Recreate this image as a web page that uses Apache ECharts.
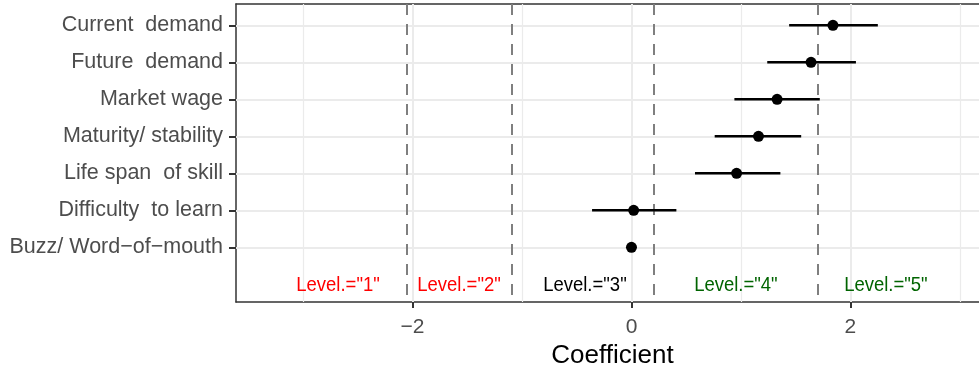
<!DOCTYPE html>
<html>
<head>
<meta charset="utf-8">
<script src="https://cdn.jsdelivr.net/npm/echarts@6/dist/echarts.min.js"></script>
<style>
  html, body { margin: 0; padding: 0; background: #fff; }
  #chart { width: 979px; height: 368px; }
</style>
</head>
<body>
<div id="chart"></div>
<script>
// rows, top to bottom
const categories = ['Current  demand', 'Future  demand', 'Market wage', 'Maturity/ stability',
  'Life span  of skill', 'Difficulty  to learn', 'Buzz/ Word\u2212of\u2212mouth'];
const coef = [1.84, 1.64, 1.33, 1.16, 0.96, 0.02, 0];
const lower = [1.44, 1.24, 0.94, 0.76, 0.58, -0.36, 0];
const upper = [2.25, 2.05, 1.72, 1.55, 1.36, 0.41, 0];

// thresholds between levels
const cutpoints = [-2.05, -1.09, 0.205, 1.70];
const levelLabels = ['Level.="1"', 'Level.="2"', 'Level.="3"', 'Level.="4"', 'Level.="5"'];
const levelX = [-2.68, -1.575, -0.425, 0.954, 2.324];
const levelColors = ['#FF0000', '#FF0000', '#000000', '#006400', '#006400'];

const xTicks = [-2, 0, 2];
const xMinor = [-3, -1, 1, 3];

const labelRow = categories.length + 1;
const rows = categories.map((c, i) => i + 1);

const chart = echarts.init(document.getElementById('chart'));

const gridColor = '#EBEBEB';
const borderLine = { show: true, onZero: false, lineStyle: { color: '#333333', width: 1.5 } };
const option = {
  animation: false,
  textStyle: { fontFamily: 'Liberation Sans, Arial, sans-serif' },
  grid: {
    left: 236,
    top: 4,
    right: 0,
    height: 298,
    outerBoundsMode: 'none',
  },
  xAxis: [
    {
      type: 'value',
      min: -3.612,
      max: 3.174,
      splitLine: { show: false },
      axisLine: borderLine,
      axisTick: {
        show: true,
        customValues: xTicks,
        length: 6,
        lineStyle: { color: '#333333', width: 2 },
      },
      axisLabel: {
        customValues: xTicks,
        color: '#4D4D4D',
        fontSize: 21,
        margin: 15,
        formatter(v) {
          return v < 0 ? '\u2212' + Math.abs(v) : String(v);
        },
      },
      name: 'Coefficient',
      nameLocation: 'middle',
      nameGap: 38,
      nameTextStyle: { color: '#000000', fontSize: 26, padding: [0, 0, 0, 10] },
    },
    {
      // top border of the panel
      type: 'value',
      position: 'top',
      min: -3.612,
      max: 3.174,
      axisLine: borderLine,
      axisTick: { show: false },
      axisLabel: { show: false },
      splitLine: { show: false },
    },
  ],
  yAxis: {
    type: 'value',
    inverse: true,
    min: 0.424,
    max: 8.478,
    splitLine: { show: false },
    axisLine: borderLine,
    axisTick: {
      show: true,
      customValues: rows,
      length: 7,
      lineStyle: { color: '#333333', width: 2 },
    },
    axisLabel: {
      customValues: rows,
      color: '#4D4D4D',
      fontSize: 21.5,
      margin: 13,
      formatter(v) {
        return categories[Math.round(v) - 1] || '';
      },
    },
  },
  series: [
    {
      // panel grid
      type: 'line',
      data: [],
      silent: true,
      z: 1,
      markLine: {
        z: 1,
        silent: true,
        symbol: 'none',
        label: { show: false },
        animation: false,
        data: [
          ...xTicks.map((x) => ({ xAxis: x, lineStyle: { color: gridColor, width: 2, type: 'solid' } })),
          ...xMinor.map((x) => ({ xAxis: x, lineStyle: { color: gridColor, width: 1.2, type: 'solid' } })),
          ...rows.map((y) => ({ yAxis: y, lineStyle: { color: gridColor, width: 2, type: 'solid' } })),
        ],
      },
    },
    {
      // level cutpoints
      type: 'line',
      data: [],
      silent: true,
      z: 2,
      markLine: {
        z: 2,
        silent: true,
        symbol: 'none',
        label: { show: false },
        animation: false,
        lineStyle: { color: '#7F7F7F', width: 2, type: [11, 9] },
        data: cutpoints.map((x) => ({ xAxis: x })),
      },
    },
    {
      // confidence intervals
      type: 'custom',
      z: 3,
      silent: true,
      data: rows.map((r, i) => [lower[i], upper[i], r]),
      encode: { x: [0, 1], y: 2 },
      renderItem(params, api) {
        const lo = api.value(0);
        const hi = api.value(1);
        if (lo === hi) return null;
        const p1 = api.coord([lo, api.value(2)]);
        const p2 = api.coord([hi, api.value(2)]);
        return {
          type: 'line',
          shape: { x1: p1[0], y1: p1[1], x2: p2[0], y2: p2[1] },
          style: { stroke: '#000000', lineWidth: 2.6 },
        };
      },
    },
    {
      type: 'scatter',
      z: 4,
      silent: true,
      symbolSize: 11,
      itemStyle: { color: '#000000', opacity: 1 },
      data: rows.map((r, i) => [coef[i], r]),
    },
    {
      // level annotations
      type: 'custom',
      z: 5,
      silent: true,
      data: levelX.map((x, i) => [x, labelRow, i]),
      encode: { x: 0, y: 1 },
      renderItem(params, api) {
        const p = api.coord([api.value(0), api.value(1)]);
        const i = api.value(2);
        return {
          type: 'text',
          x: p[0],
          y: p[1] + 1,
          scaleX: 0.88,
          style: {
            text: levelLabels[i],
            fill: levelColors[i],
            font: '21px "Liberation Sans", Arial, sans-serif',
            align: 'center',
            verticalAlign: 'middle',
          },
        };
      },
    },
  ],
};

chart.setOption(option);
window.addEventListener('resize', () => { chart.resize(); });
</script>
</body>
</html>
